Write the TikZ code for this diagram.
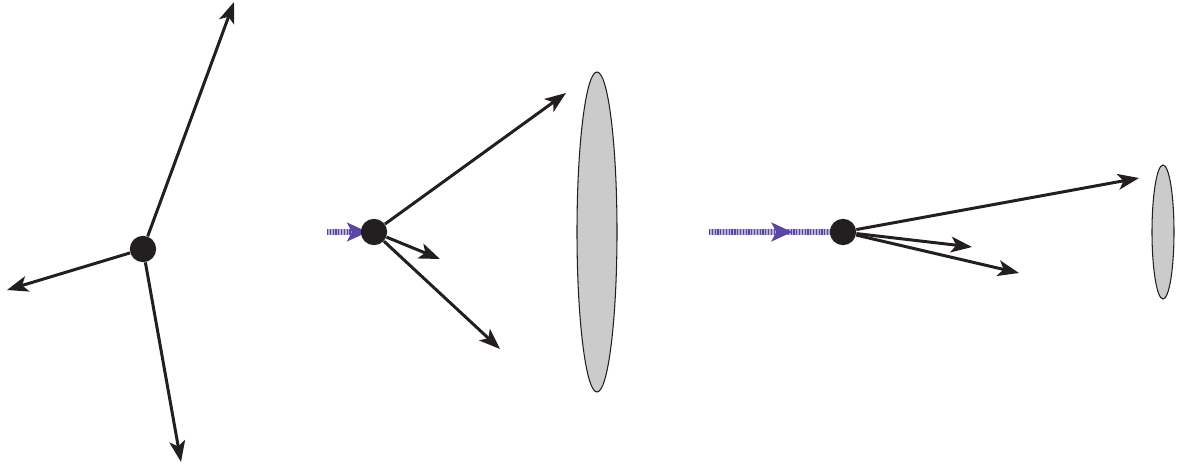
\documentclass[tikz,border=0pt]{standalone}
\usetikzlibrary{arrows.meta,decorations.markings}
\definecolor{dotblack}{HTML}{231F20}
\definecolor{lensgray}{HTML}{CBCBCB}
\definecolor{photonpurple}{HTML}{5B45A6}
\definecolor{photonlight}{HTML}{B7AEDC}

\tikzset{
    vertex/.style={circle, fill=dotblack, inner sep=0pt, minimum size=15pt},
    track/.style={draw=dotblack, line width=1.7pt, -{Stealth[length=12pt, width=9pt, inset=3pt]}},
    lens/.style={fill=lensgray, draw=dotblack, line width=0.6pt},
}

\begin{document}
\begin{tikzpicture}[x=0.02cm, y=-0.02cm]
        \def\photoncolor{photonpurple}

        % picture size
        \useasboundingbox (0, 0) rectangle (1187, 467);

        % photon coming in (striped line with a tip on it)
        \def\photon#1#2#3{
            \draw [photonlight, line width=3.4pt] (#1) -- (#2);
            \draw [\photoncolor, line width=3.4pt, dash pattern=on 0.7pt off 0.9pt] (#1) -- (#2);
            \path [decorate, decoration={markings, mark=at position #3 with
                {\fill [\photoncolor] (5pt, 0) -- (-7pt, 5.5pt) -- (-4pt, 0) -- (-7pt, -5.5pt) -- cycle;}}]
                (#1) -- (#2);
        }

        % first: decay at rest
        \node [vertex] (vtxA) at (143, 249) {};
        \coordinate (endAup) at (234, 2);
        \coordinate (endAleft) at (7, 290);
        \coordinate (endAdown) at (181, 462);
        \draw [track] (vtxA) -- (endAup);
        \draw [track] (vtxA) -- (endAleft);
        \draw [track] (vtxA) -- (endAdown);

        % second: slow beam, big detector
        \filldraw [lens] (597, 232) ellipse (20 and 160);
        \coordinate (startB) at (327, 232);
        \photon{startB}{366, 232}{0.82}
        \node [vertex] (vtxB) at (374, 232) {};
        \coordinate (endBup) at (566, 93);
        \coordinate (endBmid) at (440, 259);
        \coordinate (endBdown) at (500, 349);
        \draw [track] (vtxB) -- (endBup);
        \draw [track] (vtxB) -- (endBmid);
        \draw [track] (vtxB) -- (endBdown);

        % third: fast beam, small detector
        \filldraw [lens] (1163, 232) ellipse (11 and 67);
        \coordinate (startC) at (709, 232);
        \photon{startC}{833, 232}{0.6}
        \node [vertex] (vtxC) at (843, 232) {};
        \coordinate (endCup) at (1139, 178);
        \coordinate (endCmid) at (972, 247);
        \coordinate (endCdown) at (1019, 273);
        \draw [track] (vtxC) -- (endCup);
        \draw [track] (vtxC) -- (endCmid);
        \draw [track] (vtxC) -- (endCdown);
    \end{tikzpicture}
\end{document}
